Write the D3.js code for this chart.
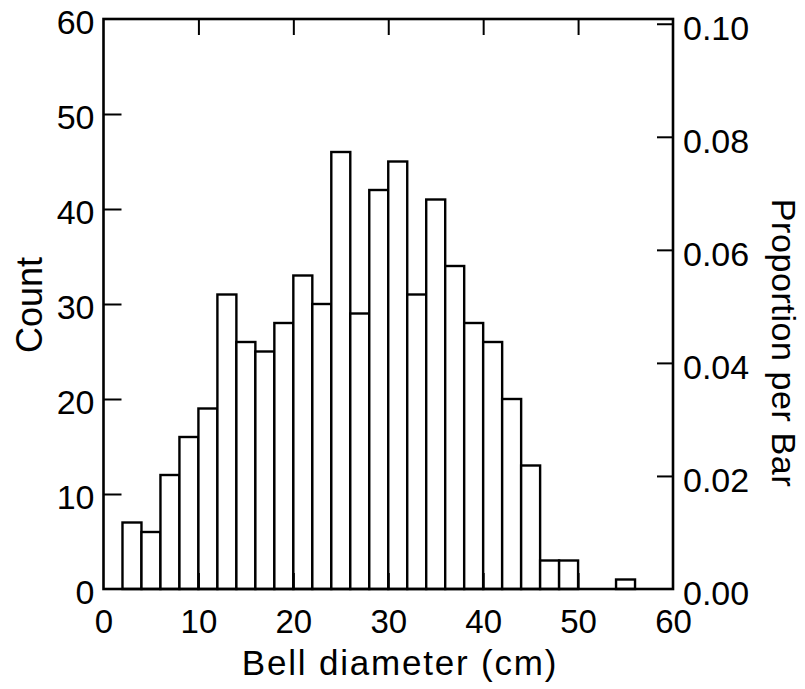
<!DOCTYPE html>
<html><head><meta charset="utf-8">
<script src="https://cdn.jsdelivr.net/npm/d3@7"></script>
<style>
body{margin:0;background:#fff}
text{font-family:"Liberation Sans",Arial,Helvetica,sans-serif;fill:#000}
</style></head>
<body><svg id="c" width="805" height="689"></svg>
<script>
// ---- data ----
const binStarts = [2,4,6,8,10,12,14,16,18,20,22,24,26,28,30,32,34,36,38,40,42,44,46,48,50,52,54];
const binWidth = 2;
const counts = [7,6,12,16,19,31,26,25,28,33,30,46,29,42,45,31,41,34,28,26,20,13,3,3,0,0,1];
const xTicks = [0,10,20,30,40,50,60];
const countTicks = [0,10,20,30,40,50,60];
const propTicks = [0,0.02,0.04,0.06,0.08,0.10];
const xLabel = "Bell diameter (cm)";
const yLabel = "Count";
const y2Label = "Proportion per Bar";

const total = d3.sum(counts);
const L = 103.5, T = 19, R = 673, B = 589;

const svg = d3.select("#c");
const x = d3.scaleLinear().domain([0,60]).range([L,R]);
const y = d3.scaleLinear().domain([0,60]).range([B,T]);
const y2 = d3.scaleLinear().domain([0,60/total]).range([B,T]);

// bars
const bins = binStarts.map((s,i)=>({x0:s,x1:s+binWidth,c:counts[i]})).filter(d=>d.c>0);
svg.append("g").selectAll("rect").data(bins).join("rect")
  .attr("x",d=>x(d.x0)).attr("width",d=>x(d.x1)-x(d.x0))
  .attr("y",d=>y(d.c)).attr("height",d=>y(0)-y(d.c))
  .attr("fill","#fff").attr("stroke","#000").attr("stroke-width",2.4);

const fs = 34;
function style(g){
  g.select(".domain").remove();
  g.selectAll(".tick line").attr("stroke","#000").attr("stroke-width",2);
  g.selectAll(".tick text").attr("font-size",fs).attr("fill","#000");
}
// left
svg.append("g").attr("transform",`translate(${L},0)`)
  .call(d3.axisLeft(y).tickValues(countTicks).tickSize(-18).tickPadding(9).tickFormat(d3.format("d")))
  .call(style).call(g=>g.selectAll(".tick text").attr("dy","0.43em"))
  .call(g=>g.selectAll(".tick").filter(d=>d===0||d===60).select("line").remove());
// right
svg.append("g").attr("transform",`translate(${R},0)`)
  .call(d3.axisRight(y2).tickValues(propTicks).tickSize(-16).tickPadding(10).tickFormat(d3.format(".2f")))
  .call(style).call(g=>g.selectAll(".tick text").attr("dy","0.46em"))
  .call(g=>g.selectAll(".tick").filter(d=>d===0).select("line").remove());
// top
svg.append("g").attr("transform",`translate(0,${T})`)
  .call(d3.axisTop(x).tickValues(xTicks.filter(d=>d>0&&d<60)).tickSize(-16).tickFormat(""))
  .call(style);
// bottom
svg.append("g").attr("transform",`translate(0,${B})`)
  .call(d3.axisBottom(x).tickValues(xTicks).tickSize(-16).tickPadding(21).tickFormat(d3.format("d")))
  .call(style)
  .call(g=>g.selectAll(".tick text").attr("font-size",33))
  .call(g=>g.selectAll(".tick").filter(d=>d===0||d===60).select("line").remove());

// frame
svg.append("rect").attr("x",L).attr("y",T).attr("width",R-L).attr("height",B-T)
  .attr("fill","none").attr("stroke","#000").attr("stroke-width",2.6);

// titles
svg.append("text").attr("x",400).attr("y",675).attr("text-anchor","middle")
  .attr("font-size",35).attr("letter-spacing",1.8).text(xLabel);
svg.append("text").attr("transform","translate(42,305) rotate(-90)").attr("text-anchor","middle")
  .attr("font-size",36).text(yLabel);
svg.append("text").attr("transform","translate(772,343) rotate(90)").attr("text-anchor","middle")
  .attr("font-size",34).attr("letter-spacing",0.6).text(y2Label);
</script></body></html>
